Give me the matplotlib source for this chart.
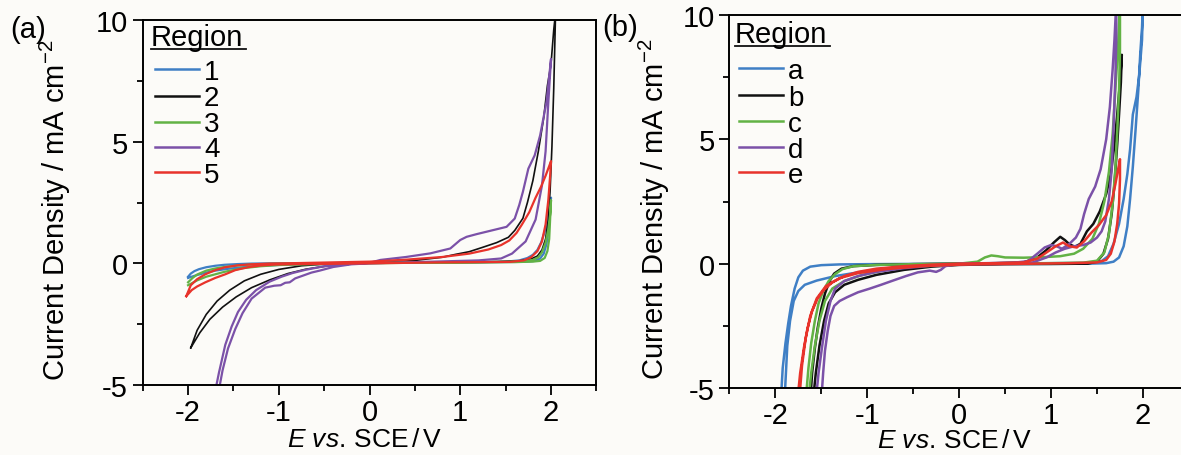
import matplotlib
matplotlib.use("Agg")
import matplotlib.pyplot as plt
import matplotlib.transforms as mtransforms
from matplotlib.lines import Line2D
from matplotlib.ticker import MultipleLocator

plt.rcParams['font.family'] = ['Liberation Sans', 'DejaVu Sans']
plt.rcParams['mathtext.fontset'] = 'custom'
plt.rcParams['mathtext.rm'] = 'Liberation Sans'
plt.rcParams['mathtext.it'] = 'Liberation Sans:italic'
plt.rcParams['axes.unicode_minus'] = False

# ---- panel (a): regions 1-5 (E in V vs SCE, j in mA cm-2), each a full sweep loop
E_a1 = [-2.0, -1.97, -1.93, -1.88, -1.8, -1.7, -1.6, -1.45, -1.3, -1.1, -0.8, -0.4, 0.0, 0.4, 0.8, 1.2, 1.5, 1.65,
        1.74, 1.8, 1.85, 1.89, 1.93, 1.96, 1.99, 2.0,
        1.99, 1.97, 1.95, 1.92, 1.88, 1.82, 1.7, 1.4, 1.0, 0.5, 0.0, -0.5, -0.9, -1.2, -1.4, -1.55, -1.7, -1.8,
        -1.9, -1.97, -2.0]
J_a1 = [-0.55, -0.42, -0.32, -0.24, -0.16, -0.1, -0.06, -0.03, -0.01, 0.0, 0.0, 0.01, 0.02, 0.03, 0.04, 0.05, 0.07,
        0.12, 0.22, 0.35, 0.55, 0.85, 1.3, 1.8, 2.4, 2.7,
        2.1, 1.3, 0.8, 0.4, 0.2, 0.1, 0.06, 0.05, 0.04, 0.03, 0.01, -0.02, -0.05, -0.1, -0.16, -0.22, -0.3, -0.38,
        -0.48, -0.56, -0.6]

E_a2 = [-1.97, -1.9, -1.8, -1.68, -1.54, -1.38, -1.2, -1.0, -0.75, -0.45, -0.2, 0.2, 0.6, 1.0, 1.4, 1.65, 1.78,
        1.85, 1.9, 1.94, 1.97, 1.99, 2.01, 2.03, 2.05,
        2.03, 2.0, 1.96, 1.92, 1.86, 1.8, 1.74, 1.69, 1.6, 1.53, 1.4, 1.24, 1.1, 0.95, 0.8, 0.5, 0.2, -0.2, -0.45,
        -0.7, -0.9, -1.1, -1.3, -1.47, -1.62, -1.76, -1.87, -1.97]
J_a2 = [-3.47, -2.75, -2.1, -1.55, -1.1, -0.72, -0.45, -0.25, -0.1, -0.02, 0.0, 0.02, 0.04, 0.05, 0.07, 0.1, 0.18,
        0.3, 0.55, 1.0, 1.8, 3.0, 4.8, 7.2, 10.3,
        9.6, 8.2, 7.3, 6.0, 4.6, 3.4, 2.5, 1.85, 1.35, 1.07, 0.85, 0.65, 0.48, 0.37, 0.25, 0.12, 0.04, -0.02, -0.1,
        -0.24, -0.42, -0.68, -1.0, -1.38, -1.8, -2.3, -2.85, -3.47]

E_a3 = [-2.0, -1.95, -1.9, -1.8, -1.7, -1.6, -1.45, -1.3, -1.1, -0.8, -0.4, 0.0, 0.4, 0.8, 1.2, 1.5, 1.7, 1.8,
        1.86, 1.9, 1.94, 1.97, 1.99, 2.0,
        1.99, 1.98, 1.96, 1.93, 1.88, 1.8, 1.6, 1.2, 0.8, 0.4, 0.0, -0.4, -0.8, -1.0, -1.2, -1.4, -1.6, -1.7,
        -1.8, -1.9, -1.95, -2.0]
J_a3 = [-0.78, -0.6, -0.46, -0.3, -0.21, -0.15, -0.09, -0.05, -0.02, 0.0, 0.01, 0.02, 0.03, 0.04, 0.05, 0.06,
        0.09, 0.14, 0.25, 0.45, 0.85, 1.4, 2.0, 2.6,
        1.8, 1.0, 0.5, 0.22, 0.1, 0.07, 0.05, 0.04, 0.03, 0.02, 0.0, -0.02, -0.05, -0.07, -0.12, -0.2, -0.35,
        -0.45, -0.55, -0.7, -0.8, -0.9]

E_a4 = [-1.72, -1.66, -1.59, -1.52, -1.45, -1.36, -1.25, -1.1, -0.97, -0.85, -0.71, -0.5, -0.3, 0.0,
        0.12, 0.4, 0.67, 0.89, 1.0, 1.07, 1.18, 1.29, 1.4, 1.51, 1.6, 1.65, 1.69, 1.75, 1.82, 1.88, 1.95, 2.0,
        1.97, 1.94, 1.9, 1.83, 1.72, 1.57, 1.45, 1.2, 0.8, 0.4, 0.0, -0.2, -0.4, -0.55, -0.64, -0.73, -0.82,
        -0.88, -0.93, -0.98, -1.05, -1.15, -1.3, -1.4, -1.48, -1.56, -1.62, -1.68]
J_a4 = [-5.6, -4.5, -3.35, -2.6, -2.0, -1.5, -1.1, -0.75, -0.55, -0.4, -0.27, -0.12, -0.04, 0.02,
        0.14, 0.26, 0.41, 0.61, 0.96, 1.09, 1.2, 1.3, 1.4, 1.5, 1.84, 2.4, 2.94, 3.89, 4.44, 5.26, 6.63, 8.4,
        6.6, 4.6, 3.2, 1.8, 0.9, 0.4, 0.2, 0.12, 0.08, 0.04, 0.0, -0.04, -0.15, -0.3, -0.38, -0.5, -0.62,
        -0.78, -0.8, -0.9, -0.92, -1.0, -1.45, -2.05, -2.7, -3.5, -4.4, -5.6]

E_a5 = [-2.02, -1.97, -1.9, -1.81, -1.7, -1.59, -1.45, -1.3, -1.1, -0.8, -0.4, 0.0, 0.4, 0.8, 1.1, 1.31, 1.45,
        1.54, 1.62, 1.68, 1.76, 1.83, 1.89, 1.94, 1.98, 2.0,
        1.99, 1.97, 1.94, 1.9, 1.85, 1.78, 1.7, 1.55, 1.2, 0.8, 0.4, 0.0, -0.4, -0.8, -1.04, -1.2, -1.34, -1.48,
        -1.59, -1.7, -1.81, -1.9, -1.96, -2.02]
J_a5 = [-1.35, -0.9, -0.65, -0.45, -0.28, -0.16, -0.08, -0.04, -0.01, 0.01, 0.04, 0.07, 0.15, 0.26, 0.4, 0.57,
        0.75, 0.94, 1.25, 1.6, 2.1, 2.7, 3.15, 3.6, 4.0, 4.2,
        3.6, 2.6, 1.6, 0.9, 0.5, 0.25, 0.12, 0.06, 0.05, 0.04, 0.02, 0.0, -0.02, -0.03, -0.05, -0.09, -0.16,
        -0.28, -0.45, -0.6, -0.78, -0.95, -1.1, -1.35]

# ---- panel (b): regions a-e
E_ba = [-1.94, -1.92, -1.89, -1.86, -1.83, -1.79, -1.75, -1.70, -1.62, -1.5, -1.3, -1.0, -0.5, 0.0, 0.5, 1.0,
        1.4, 1.55, 1.62, 1.68, 1.74, 1.79, 1.83, 1.86, 1.89, 1.93, 1.96, 1.99, 2.0,
        1.99, 1.97, 1.95, 1.92, 1.89, 1.86, 1.83, 1.79, 1.74, 1.68, 1.6, 1.4, 1.0, 0.5, 0.0, -0.4, -0.8, -1.1,
        -1.35, -1.55, -1.68, -1.75, -1.8, -1.84, -1.87, -1.9]
J_ba = [-5.5, -4.2, -3.2, -2.4, -1.7, -1.0, -0.55, -0.28, -0.12, -0.06, -0.03, -0.02, -0.01, 0.0, 0.01, 0.02,
        0.03, 0.1, 0.3, 0.8, 1.6, 2.6, 3.6, 4.6, 6.0, 6.7, 7.6, 9.0, 10.5,
        9.5, 8.4, 7.0, 5.4, 3.9, 2.6, 1.5, 0.7, 0.25, 0.08, 0.02, 0.0, -0.01, -0.01, -0.02, -0.08, -0.2, -0.35,
        -0.5, -0.68, -0.85, -1.1, -1.5, -2.3, -3.3, -5.5]

E_bb = [-1.62, -1.6, -1.57, -1.54, -1.5, -1.46, -1.41, -1.36, -1.28, -1.15, -0.9, -0.5, 0.0,
        0.4, 0.7, 0.85, 0.95, 1.03, 1.1, 1.15, 1.2, 1.26, 1.32, 1.39, 1.46, 1.53, 1.6, 1.65, 1.69, 1.72, 1.75, 1.77,
        1.76, 1.74, 1.72, 1.69, 1.66, 1.62, 1.57, 1.5, 1.4, 1.0, 0.5, 0.0,
        -0.3, -0.6, -0.9, -1.1, -1.25, -1.35, -1.42, -1.47, -1.52, -1.56, -1.59]
J_bb = [-5.5, -4.4, -3.4, -2.6, -1.8, -1.2, -0.7, -0.4, -0.2, -0.1, -0.05, -0.02, 0.0,
        0.02, 0.05, 0.25, 0.55, 0.85, 1.08, 0.95, 0.78, 0.68, 0.8, 1.3, 1.6, 2.1, 2.8, 3.6, 4.8, 6.0, 7.3, 8.4,
        7.3, 6.0, 4.8, 3.2, 2.0, 1.0, 0.4, 0.08, 0.0, -0.01, -0.02, -0.05,
        -0.12, -0.25, -0.45, -0.65, -0.85, -1.15, -1.6, -2.3, -3.3, -4.4, -5.5]

E_bc = [-1.67, -1.64, -1.61, -1.57, -1.53, -1.48, -1.42, -1.35, -1.27, -1.15, -0.9, -0.5, 0.0,
        0.2, 0.28, 0.35, 0.42, 0.5, 0.7, 0.9, 1.1, 1.25, 1.35, 1.45, 1.52, 1.58, 1.63, 1.67, 1.7, 1.73, 1.75,
        1.75, 1.74, 1.72, 1.7, 1.67, 1.63, 1.58, 1.5, 1.35, 1.0, 0.5, 0.0,
        -0.2, -0.5, -0.8, -1.05, -1.25, -1.38, -1.46, -1.52, -1.57, -1.61, -1.64]
J_bc = [-5.5, -4.2, -3.2, -2.3, -1.6, -1.1, -0.7, -0.42, -0.22, -0.1, -0.05, -0.02, 0.0,
        0.08, 0.25, 0.33, 0.3, 0.25, 0.24, 0.26, 0.3, 0.4, 0.6, 1.0, 1.6, 2.5, 3.7, 5.2, 7.0, 8.8, 10.5,
        8.6, 7.0, 5.3, 3.8, 2.4, 1.2, 0.45, 0.12, 0.04, 0.02, 0.0, -0.02,
        -0.08, -0.1, -0.25, -0.45, -0.7, -1.0, -1.5, -2.3, -3.3, -4.4, -5.5]

E_bd = [-1.50, -1.48, -1.46, -1.43, -1.4, -1.36, -1.3, -1.22, -1.1, -0.97,
        -0.85, -0.72, -0.58, -0.45, -0.32, -0.25, -0.2, -0.15, 0.0,
        0.3, 0.6, 0.75, 0.85, 0.93, 1.0, 1.06, 1.12, 1.2, 1.27,
        1.32, 1.36, 1.41, 1.48, 1.54, 1.6, 1.64, 1.67, 1.69, 1.71,
        1.71, 1.7, 1.68, 1.66, 1.63, 1.59, 1.55, 1.5, 1.43, 1.35,
        1.25, 1.15, 1.05, 0.95, 0.8, 0.5, 0.0,
        -0.3, -0.6, -0.9, -1.1, -1.25, -1.35, -1.4, -1.45, -1.49, -1.53, -1.56]
J_bd = [-5.5, -4.4, -3.5, -2.7, -2.1, -1.7, -1.5, -1.35, -1.15, -1.0,
        -0.85, -0.68, -0.5, -0.35, -0.28, -0.33, -0.25, -0.1, 0.0,
        0.02, 0.04, 0.1, 0.4, 0.65, 0.75, 0.7, 0.6, 0.8, 1.05,
        1.4, 2.0, 2.6, 3.1, 3.8, 5.0, 6.3, 7.8, 9.0, 10.5,
        9.0, 7.5, 5.5, 3.8, 2.6, 1.7, 1.3, 1.05, 0.85, 0.75,
        0.7, 0.6, 0.45, 0.25, 0.05, 0.0, -0.03,
        -0.08, -0.18, -0.33, -0.5, -0.7, -1.0, -1.5, -2.3, -3.3, -4.4, -5.5]

E_be = [-1.76, -1.73, -1.69, -1.65, -1.6, -1.54, -1.47, -1.38, -1.25, -1.1, -0.9, -0.6, -0.3, 0.0,
        0.4, 0.7, 0.85, 0.95, 1.05, 1.13, 1.2, 1.28, 1.36, 1.44, 1.52, 1.6, 1.66, 1.7, 1.73, 1.75,
        1.75, 1.74, 1.72, 1.69, 1.65, 1.6, 1.5, 1.2, 0.8, 0.3, 0.0,
        -0.4, -0.8, -1.1, -1.3, -1.45, -1.55, -1.62, -1.67, -1.71, -1.74]
J_be = [-5.5, -4.4, -3.4, -2.6, -1.9, -1.4, -1.05, -0.75, -0.5, -0.33, -0.2, -0.1, -0.04, 0.0,
        0.02, 0.05, 0.2, 0.45, 0.7, 0.85, 0.7, 0.65, 0.9, 1.25, 1.55, 1.95, 2.5, 3.2, 3.8, 4.2,
        3.4, 2.4, 1.6, 0.9, 0.4, 0.15, 0.05, 0.02, 0.0, -0.02, -0.04,
        -0.1, -0.22, -0.38, -0.58, -0.9, -1.4, -2.1, -3.0, -4.1, -5.5]

labels_a = ['1', '2', '3', '4', '5']
labels_b = ['a', 'b', 'c', 'd', 'e']
colors = ['#3f7fc5', '#111111', '#62b245', '#7b51a8', '#e8332b']

BG = '#fcfbf8'
W, H = 1181, 456

fig = plt.figure(figsize=(W / 100, H / 100), dpi=100, facecolor=BG)
ax_a = fig.add_axes([142.7 / W, (H - 386) / H, 453.7 / W, 365 / H])
ax_b = fig.add_axes([729.4 / W, (H - 389) / H, 459.5 / W, 373 / H])

# pixel coordinates, y measured from the top edge
px = mtransforms.Affine2D().scale(1, -1).translate(0, H)


def style_axes(ax):
    ax.set_facecolor(BG)
    ax.set_xlim(-2.5, 2.5)
    ax.set_ylim(-5, 10)
    ax.xaxis.set_major_locator(MultipleLocator(1))
    ax.xaxis.set_minor_locator(MultipleLocator(0.5))
    ax.yaxis.set_major_locator(MultipleLocator(5))
    ax.yaxis.set_minor_locator(MultipleLocator(2.5))
    ax.tick_params(which='both', direction='out', width=1.3, labelsize=21, top=False, right=False)
    ax.tick_params(which='major', length=7.5, pad=3)
    ax.tick_params(axis='x', which='major', pad=2)
    ax.tick_params(which='minor', length=4.5)
    for sp in ax.spines.values():
        sp.set_linewidth(1.4)
    ax.set_xlabel(r'$\mathit{E\ vs.}\,\mathrm{SCE\,/\,V}$', fontsize=19, va='top')
    ax.set_ylabel(r'Current Density / mA cm$^{-2}$', fontsize=21)


def draw_legend(x0, y_title, rows_y, labels, line_x):
    fig.text(x0, y_title, 'Region', fontsize=21, transform=px, va='baseline')
    fig.add_artist(Line2D([x0, x0 + 95], [y_title + 4, y_title + 4], transform=px, color='#111111', lw=1.3))
    for y, lab, c in zip(rows_y, labels, colors):
        fig.add_artist(Line2D([line_x, line_x + 44], [y, y], transform=px, color=c, lw=1.8))
        fig.text(line_x + 49, y + 10, lab, fontsize=20, transform=px, va='baseline')


curves_a = [(E_a1, J_a1), (E_a2, J_a2), (E_a3, J_a3), (E_a4, J_a4), (E_a5, J_a5)]
widths_a = [1.6, 1.2, 1.6, 1.6, 1.6]
for (e, j), c, lw in zip(curves_a, colors, widths_a):
    ax_a.plot(e, j, color=c, lw=lw, solid_joinstyle='round')

curves_b = [(E_ba, J_ba), (E_bb, J_bb), (E_bc, J_bc), (E_bd, J_bd), (E_be, J_be)]
for (e, j), c in zip(curves_b, colors):
    ax_b.plot(e, j, color=c, lw=1.8, solid_joinstyle='round')

style_axes(ax_a)
style_axes(ax_b)
ax_a.yaxis.set_label_coords(-0.154, 0.482)
ax_b.yaxis.set_label_coords(-0.125, 0.483)
ax_a.xaxis.set_label_coords(0.489, -0.115)
ax_b.xaxis.set_label_coords(0.489, -0.108)

draw_legend(151, 46, [70, 96.5, 122.5, 147.5, 173], labels_a, 155)
draw_legend(735, 43, [69, 96, 122, 148, 173], labels_b, 739)

fig.text(10, 38, '(a)', fontsize=21, transform=px, va='baseline')
fig.text(602, 36, '(b)', fontsize=21, transform=px, va='baseline')

fig.savefig('out.png', dpi=100, facecolor=BG)
